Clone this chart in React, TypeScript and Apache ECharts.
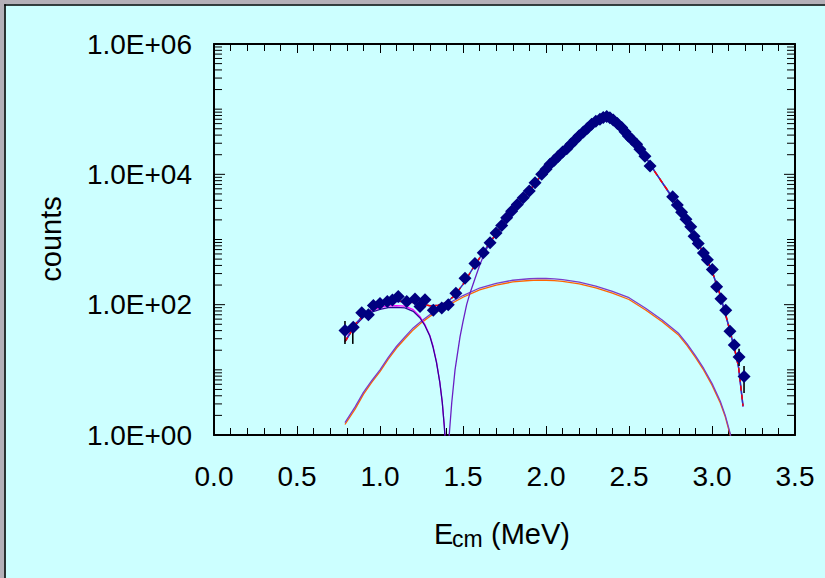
import React, { useEffect, useRef } from 'react';
import * as echarts from 'echarts';

const FONT = '"Liberation Sans", Arial, Helvetica, sans-serif';

const xTickLabels = ['0.0', '0.5', '1.0', '1.5', '2.0', '2.5', '3.0', '3.5'];
const yTickLabels = ['1.0E+00', '1.0E+02', '1.0E+04', '1.0E+06'];
const yMajorTicks = [1, 100, 10000, 1000000];
const yMinorMultipliers = [2, 3, 4, 5, 6, 7, 8, 9];
const yDecades = [1, 10, 100, 1000, 10000, 100000];
const yUnlabeledDecades = [10, 1000, 100000];

// measured data points
const dataE = [0.789, 0.839, 0.89, 0.93, 0.96, 1.0, 1.044, 1.075, 1.11, 1.161, 1.211, 1.241, 1.271, 1.321, 1.372, 1.411,
  1.457, 1.512, 1.572, 1.622, 1.663, 1.699, 1.733, 1.763, 1.793, 1.827, 1.863, 1.899, 1.934, 1.974, 2.0, 2.024, 2.05,
  2.074, 2.1, 2.125, 2.15, 2.175, 2.2, 2.225, 2.25, 2.275, 2.3, 2.325, 2.345, 2.366, 2.385, 2.405, 2.43, 2.456, 2.476,
  2.496, 2.516, 2.546, 2.566, 2.596, 2.627, 2.763, 2.791, 2.817, 2.843, 2.872, 2.892, 2.917, 2.948, 2.972, 3.002, 3.028,
  3.054, 3.083, 3.108, 3.134, 3.163, 3.193];
const dataCounts = [40, 45, 75, 70, 97, 104, 112, 118, 134, 112, 122, 94, 119, 82, 89, 100,
  150, 255, 427, 624, 890, 1260, 1640, 2160, 2725, 3450, 4370, 5530, 7450, 10000, 12000, 14250, 16500,
  19000, 22000, 24800, 29000, 33700, 39000, 44700, 51000, 58500, 65000, 70200, 74500, 77300, 74000, 68400, 60000, 52300, 45000,
  38800, 34600, 28900, 24200, 19000, 13400, 4540, 3370, 2630, 2040, 1570, 1125, 870, 623, 490, 345, 188,
  123, 82, 39, 24, 15.7, 7.9];

// error bars
const errE = [0.789, 0.836, 3.163, 3.193];
const errLow = [25, 25, 11.5, 4.4];
const errHigh = [56, 50, 21, 11.5];

// total fit
const fitE = [0.789, 0.82, 0.85, 0.9, 0.95, 1.0, 1.05, 1.1, 1.15, 1.2, 1.25, 1.3, 1.35, 1.4, 1.45, 1.5, 1.55, 1.6, 1.65, 1.7,
  1.75, 1.8, 1.85, 1.9, 1.95, 2.0, 2.05, 2.1, 2.15, 2.2, 2.25, 2.3, 2.35, 2.37, 2.4, 2.45, 2.5, 2.55, 2.6, 2.65, 2.7,
  2.75, 2.8, 2.85, 2.9, 2.95, 3.0, 3.05, 3.1, 3.14, 3.16, 3.187];
const fitTotal = [27, 36, 50, 68, 85, 98, 108, 113, 112, 108, 102, 96, 98, 108, 138, 205, 330, 520, 810, 1230,
  1900, 2850, 4050, 5600, 8300, 11800, 16500, 22000, 29500, 39000, 51000, 64500, 75500, 77000, 70000, 54000, 39000, 27500, 18500, 11500, 7500,
  4900, 3050, 1900, 1050, 620, 330, 140, 48, 19, 11, 2.8];

// low-energy component
const comp1E = [0.789, 0.85, 0.9, 0.95, 1.0, 1.05, 1.1, 1.15, 1.2, 1.24, 1.27, 1.3, 1.32, 1.34, 1.36, 1.375, 1.387, 1.395, 1.4];
const comp1Blue = [27, 48, 64, 77, 85, 90, 91, 89, 79, 63, 48, 33, 22, 13, 6.5, 3.2, 1.4, 0.7, 0.3];
const comp1Magenta = [28, 50, 67, 81, 91, 96, 97, 95, 84, 66, 50, 34, 23, 13.5, 6.6, 3.2, 1.4, 0.7, 0.3];

// main peak component
const comp2E = [1.405, 1.417, 1.432, 1.452, 1.482, 1.5, 1.522, 1.542, 1.572, 1.6, 1.63, 1.66, 1.7, 1.8, 1.9, 2.0, 2.1,
  2.2, 2.3, 2.35, 2.37, 2.4, 2.5, 2.6, 2.7, 2.8, 2.9, 3.0, 3.05, 3.1, 3.14, 3.16, 3.187];
const comp2 = [0.2, 1.0, 3.1, 10, 32, 55, 100, 150, 250, 400, 620, 880, 1220, 2820, 5550, 11750, 21950,
  38950, 64450, 75450, 76950, 69950, 38950, 18450, 7450, 3010, 1035, 325, 137, 47, 18.5, 10.8, 2.7];

// broad components
const broadE = [0.789, 0.85, 0.9, 0.95, 1.0, 1.05, 1.1, 1.15, 1.2, 1.25, 1.3, 1.35, 1.4, 1.45, 1.5, 1.6, 1.7, 1.8, 1.9,
  1.95, 2.0, 2.05, 2.1, 2.2, 2.3, 2.4, 2.5, 2.6, 2.7, 2.8, 2.85, 2.9, 2.95, 3.0, 3.05, 3.08, 3.11, 3.13];
const broadPurple = [1.55, 2.7, 4.5, 6.8, 10, 15.5, 23, 32, 44, 56, 70, 85, 100, 118, 138, 180, 213, 237, 250,
  253, 252, 249, 242, 222, 193, 160, 128, 88, 58, 36, 25, 16.5, 10.5, 6.2, 3.3, 2.0, 1.05, 0.5];
const broadOrange = [1.45, 2.5, 4.2, 6.4, 9.4, 14.6, 21.6, 30, 41, 53, 66, 80, 94, 111, 130, 169, 200, 223, 235,
  238, 237, 234, 228, 209, 181, 150, 120, 83, 54.5, 33.8, 23.5, 15.5, 9.9, 5.8, 3.1, 1.9, 0.99, 0.47];

const pairs = (xs: number[], ys: number[]) => xs.map((x, i) => [x, ys[i]]);

const lineSeries = (xs: number[], ys: number[], color: string, width: number, z: number, type: any = 'solid') => ({
  type: 'line',
  data: pairs(xs, ys),
  showSymbol: false,
  symbol: 'none',
  clip: true,
  silent: true,
  z,
  lineStyle: { color, width, type },
});

const minorYTicks = [
  ...yDecades.flatMap((d) => yMinorMultipliers.map((m) => m * d)),
  ...yUnlabeledDecades,
];

const axisLineStyle = { show: true, onZero: false, lineStyle: { color: '#000', width: 2 } };

export default function App() {
  const ref = useRef<HTMLDivElement>(null);
  useEffect(() => {
    const chart = echarts.init(ref.current!, undefined, { renderer: 'svg' });
    const xAxisCommon = {
      type: 'value',
      min: 0,
      max: 3.5,
      interval: 0.5,
      axisLine: axisLineStyle,
      axisTick: { show: true, inside: true, length: 9, lineStyle: { color: '#000', width: 1 } },
      minorTick: { show: true, splitNumber: 5, length: 7, lineStyle: { color: '#000', width: 1 } },
      splitLine: { show: false },
      minorSplitLine: { show: false },
    };
    const yAxisCommon = {
      type: 'log',
      logBase: 10,
      min: 1,
      max: 1000000,
      splitNumber: 6,
      axisLine: axisLineStyle,
      axisTick: { show: false },
      minorTick: { show: false },
      splitLine: { show: false },
    };
    const tickRender = (len: number) => (params: any, api: any) => {
      const v = api.value(1);
      const pL = api.coord([0, v]);
      const pR = api.coord([3.5, v]);
      return {
        type: 'group',
        children: [
          { type: 'line', shape: { x1: pL[0], y1: pL[1], x2: pL[0] + len, y2: pL[1] }, style: { stroke: '#000', lineWidth: 1 } },
          { type: 'line', shape: { x1: pR[0], y1: pR[1], x2: pR[0] - len, y2: pR[1] }, style: { stroke: '#000', lineWidth: 1 } },
        ],
      };
    };
    const option: any = {
      animation: false,
      backgroundColor: '#CCFFFF',
      grid: { left: 214, top: 44, width: 581, height: 391, containLabel: false },
      xAxis: [
        {
          ...xAxisCommon,
          position: 'bottom',
          axisLabel: {
            show: true, margin: 27, color: '#000', fontSize: 28, fontFamily: FONT,
            formatter: (v: number) => xTickLabels[Math.round(v / 0.5)] ?? '',
          },
        },
        { ...xAxisCommon, position: 'top', axisLabel: { show: false } },
      ],
      yAxis: [
        {
          ...yAxisCommon,
          position: 'left',
          axisLabel: {
            show: true, margin: 22, color: '#000', fontSize: 28, fontFamily: FONT,
            formatter: (v: number) => {
              const d = Math.round(Math.log10(v));
              return d % 2 === 0 ? yTickLabels[d / 2] ?? '' : '';
            },
          },
        },
        { ...yAxisCommon, position: 'right', axisLabel: { show: false } },
      ],
      graphic: [
        { type: 'rect', shape: { x: 0, y: 0, width: 825, height: 4.2 }, style: { fill: '#B4B0B8' } },
        { type: 'rect', shape: { x: 0, y: 0, width: 4.2, height: 578 }, style: { fill: '#B4B0B8' } },
        { type: 'line', shape: { x1: 4.2, y1: 5, x2: 825, y2: 5 }, style: { stroke: '#000', lineWidth: 1.6 } },
        { type: 'line', shape: { x1: 5, y1: 4.2, x2: 5, y2: 578 }, style: { stroke: '#000', lineWidth: 1.6 } },
        {
          type: 'text', x: 51, y: 239, rotation: Math.PI / 2,
          style: { text: 'counts', font: `29px ${FONT}`, fill: '#000', align: 'center', verticalAlign: 'middle' },
        },
        { type: 'text', x: 434, y: 534, style: { text: 'E', font: `29px ${FONT}`, fill: '#000', align: 'left', verticalAlign: 'middle' } },
        { type: 'text', x: 452, y: 539, style: { text: 'cm', font: `23px ${FONT}`, fill: '#000', align: 'left', verticalAlign: 'middle' } },
        { type: 'text', x: 483, y: 534, style: { text: ' (MeV)', font: `29px ${FONT}`, fill: '#000', align: 'left', verticalAlign: 'middle' } },
      ],
      series: [
        lineSeries(broadE, broadOrange, '#FF6600', 1.3, 2),
        lineSeries(broadE, broadPurple, '#7A3DC8', 1.3, 2),
        lineSeries(comp1E, comp1Magenta, '#FF00FF', 1.2, 2),
        lineSeries(comp1E, comp1Blue, '#330099', 1.3, 2),
        lineSeries(comp2E, comp2, '#6A1FC4', 1.3, 2),
        lineSeries(fitE, fitTotal, '#3030C0', 1.5, 3),
        lineSeries(fitE, fitTotal, '#FF0000', 1.5, 3, [5, 4]),
        {
          type: 'custom',
          silent: true,
          z: 4,
          clip: false,
          data: errE.map((e, i) => [e, errLow[i], errHigh[i]]),
          encode: { x: 0, y: [1, 2] },
          renderItem: (params: any, api: any) => {
            const a = api.coord([api.value(0), api.value(1)]);
            const b = api.coord([api.value(0), api.value(2)]);
            return { type: 'line', shape: { x1: a[0], y1: a[1], x2: b[0], y2: b[1] }, style: { stroke: '#000', lineWidth: 1.6 } };
          },
        },
        {
          type: 'scatter',
          data: pairs(dataE, dataCounts),
          symbol: 'diamond',
          symbolSize: 13,
          itemStyle: { color: '#000080', opacity: 1 },
          silent: true,
          z: 5,
        },
        {
          type: 'custom', silent: true, z: 6, clip: false,
          data: minorYTicks.map((v) => [0, v]),
          encode: { x: 0, y: 1 },
          renderItem: tickRender(8),
        },
        {
          type: 'custom', silent: true, z: 6, clip: false,
          data: yMajorTicks.map((v) => [0, v]),
          encode: { x: 0, y: 1 },
          renderItem: tickRender(11),
        },
      ],
    };
    chart.setOption(option);
    return () => chart.dispose();
  }, []);
  return (
    <div style={{ position: 'fixed', left: 0, top: 0, width: 825, height: 578, background: '#CCFFFF' }}>
      <div ref={ref} style={{ width: 825, height: 578 }} />
    </div>
  );
}
